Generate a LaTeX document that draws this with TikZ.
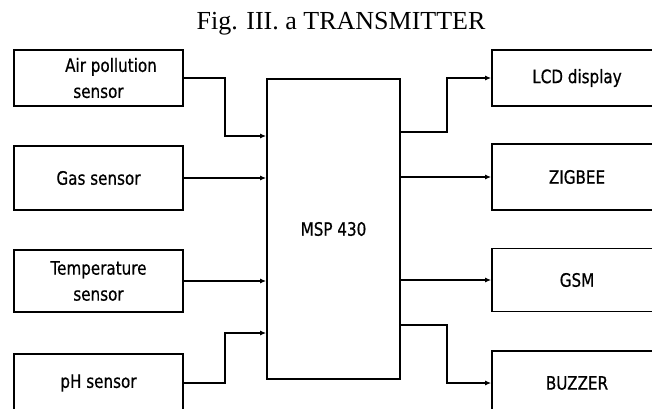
\documentclass[tikz,border=0pt]{standalone}
\usepackage{fontspec}
\setmainfont{Liberation Serif}
\newfontfamily\boxfont[FakeStretch=0.82,FakeBold=0.6]{DejaVu Sans}
\usetikzlibrary{arrows.meta}
\begin{document}
\begin{tikzpicture}[x=1pt,y=-1pt,
  blk/.style={draw, line width=1.7pt, inner sep=0pt, align=center,
    font=\boxfont\fontsize{18.5}{26}\selectfont},
  arr/.style={line width=1.6pt, -{Latex[length=6pt,width=5pt]}},
]
\useasboundingbox (0,0) rectangle (652,408);
\node[anchor=base, font=\fontsize{26}{30}\selectfont] (title) at (341,29) {Fig. III. a TRANSMITTER};

% left boxes
\node[blk, minimum width=169pt, minimum height=56pt] (air) at (98.5,78) {\hspace*{25pt}Air pollution\\sensor};
\node[blk, minimum width=169pt, minimum height=64pt] (gas) at (98.5,178) {Gas sensor};
\node[blk, minimum width=169pt, minimum height=62pt] (temp) at (98.5,281) {Temperature\\sensor};
\node[blk, minimum width=169pt, minimum height=58pt] (ph) at (98.5,383) {pH sensor};

% MCU
\node[blk, minimum width=133pt, minimum height=300pt] (msp) at (333.5,229) {MSP 430};

% right boxes
\node[blk, minimum width=170pt, minimum height=56pt] (lcd) at (577,78) {LCD display};
\node[blk, minimum width=170pt, minimum height=66pt] (zig) at (577,177) {ZIGBEE};
\node[blk, minimum width=170pt, minimum height=63pt] (gsm) at (577,280) {GSM};
\node[blk, minimum width=170pt, minimum height=64pt] (buz) at (577,383) {BUZZER};

% input connectors
\draw[arr] (air.east) -- (225,78) -- (225,136) -- (msp.west |- 0,136);
\draw[arr] (gas.east) -- (msp.west |- gas.east);
\draw[arr] (temp.east) -- (msp.west |- temp.east);
\draw[arr] (ph.east) -- (225,383) -- (225,333) -- (msp.west |- 0,333);

% output connectors
\draw[arr] (msp.east |- 0,132) -- (447,132) -- (447,78) -- (lcd.west);
\draw[arr] (msp.east |- zig.west) -- (zig.west);
\draw[arr] (msp.east |- gsm.west) -- (gsm.west);
\draw[arr] (msp.east |- 0,325) -- (447,325) -- (447,383) -- (buz.west);
\end{tikzpicture}
\end{document}
